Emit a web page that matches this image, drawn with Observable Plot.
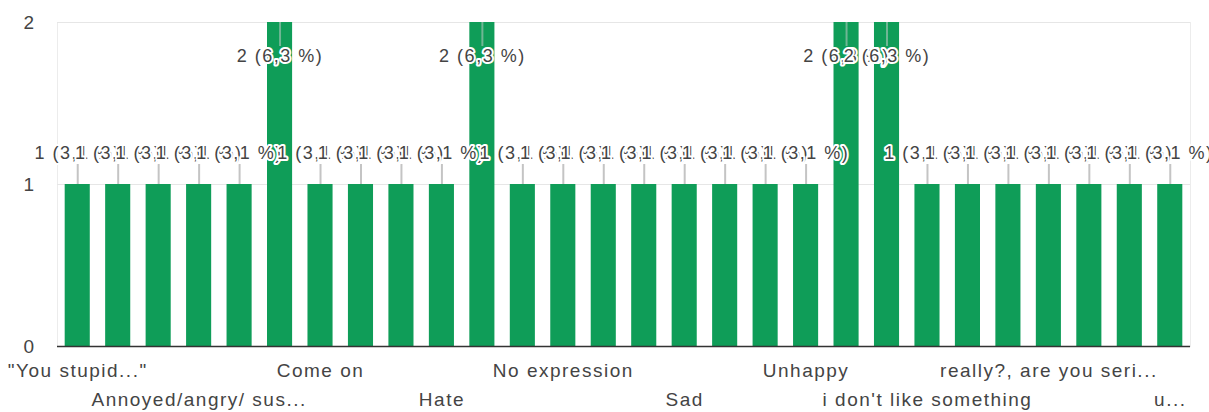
<!DOCTYPE html>
<html>
<head>
<meta charset="utf-8">
<script src="https://cdn.jsdelivr.net/npm/d3@7"></script>
<script src="https://cdn.jsdelivr.net/npm/@observablehq/plot@0.6"></script>
<style>
  html, body { margin: 0; padding: 0; background: #fff; }
</style>
</head>
<body>
<div id="chart"></div>
<script>
// Response counts for the 28 answer categories (left to right)
const counts = [1, 1, 1, 1, 1, 2, 1, 1, 1, 1, 2, 1, 1, 1, 1, 1, 1, 1, 1, 2, 2, 1, 1, 1, 1, 1, 1, 1];
// Categories that carry a visible tick label (index -> label), two alternating rows
const row1Index = [0, 6, 12, 18, 24];
const row1Labels = ["\"You stupid...\"", "Come on", "No expression", "Unhappy", "really?, are you seri..."];
const row2Index = [3, 9, 15, 21, 27];
const row2Labels = ["Annoyed/angry/ sus...", "Hate", "Sad", "i don't like something", "u..."];
const yTicks = [0, 1, 2];

const total = d3.sum(counts);
const data = counts.map((c, i) => ({i, count: c,
  label: `${c} (${(c / total * 100).toFixed(1).replace(".", ",")} %)`}));
const maxCount = d3.max(counts);
const low = data.filter(d => d.count < maxCount);
const high = data.filter(d => d.count === maxCount);

const W = 1209, H = 412, mt = 22, mb = 66, ml = 57, mr = 19;
const pxPerUnit = (H - mt - mb) / maxCount;

const labelMap = new Map([...row1Index.map((k, j) => [k, row1Labels[j]]), ...row2Index.map((k, j) => [k, row2Labels[j]])]);

const chart = Plot.plot({
  width: W,
  height: H,
  marginTop: mt,
  marginBottom: mb,
  marginLeft: ml,
  marginRight: mr,
  style: {fontFamily: "'Liberation Sans', Arial, sans-serif", fontSize: "19px", letterSpacing: "1.5px", background: "#fff", color: "#444"},
  x: {type: "band", domain: d3.range(counts.length), paddingInner: 0.38, paddingOuter: 0.19, round: false},
  y: {domain: [0, maxCount]},
  marks: [
    Plot.frame({stroke: "#ececec"}),
    Plot.ruleY([1, 2], {stroke: "#e6e6e6"}),
    Plot.barY(data, {x: "i", y: "count", fill: "#0f9d58"}),
    Plot.ruleY([0], {stroke: "#333", strokeWidth: 1.5}),
    Plot.ruleX(low, {x: "i", y1: "count", y2: d => d.count + 20 / pxPerUnit, stroke: "#c4c4c4", strokeWidth: 2}),
    Plot.ruleX(high, {x: "i", y1: "count", y2: d => d.count - 24 / pxPerUnit, stroke: "#d0d0d0", strokeOpacity: 0.5, strokeWidth: 2}),
    Plot.text(low, {x: "i", y: "count", text: "label", dy: -31, fontSize: 18, fill: "#444", stroke: "white", strokeWidth: 4, paintOrder: "stroke"}),
    Plot.text(high, {x: "i", y: "count", text: "label", dy: 34, fontSize: 18, fill: "#444", stroke: "white", strokeWidth: 4, paintOrder: "stroke"}),
    Plot.axisY({ticks: yTicks, tickSize: 0, tickPadding: 22, fontSize: 19, fill: "#444", tickFormat: d3.format("d"), label: null}),
    Plot.axisX({ticks: row1Index, tickSize: 0, tickPadding: 17, fontSize: 19, fill: "#444", tickFormat: i => labelMap.get(i), label: null}),
    Plot.axisX({ticks: row2Index, tickSize: 0, tickPadding: 46, fontSize: 19, fill: "#444", tickFormat: i => labelMap.get(i), label: null})
  ]
});
document.getElementById("chart").appendChild(chart);
</script>
</body>
</html>
